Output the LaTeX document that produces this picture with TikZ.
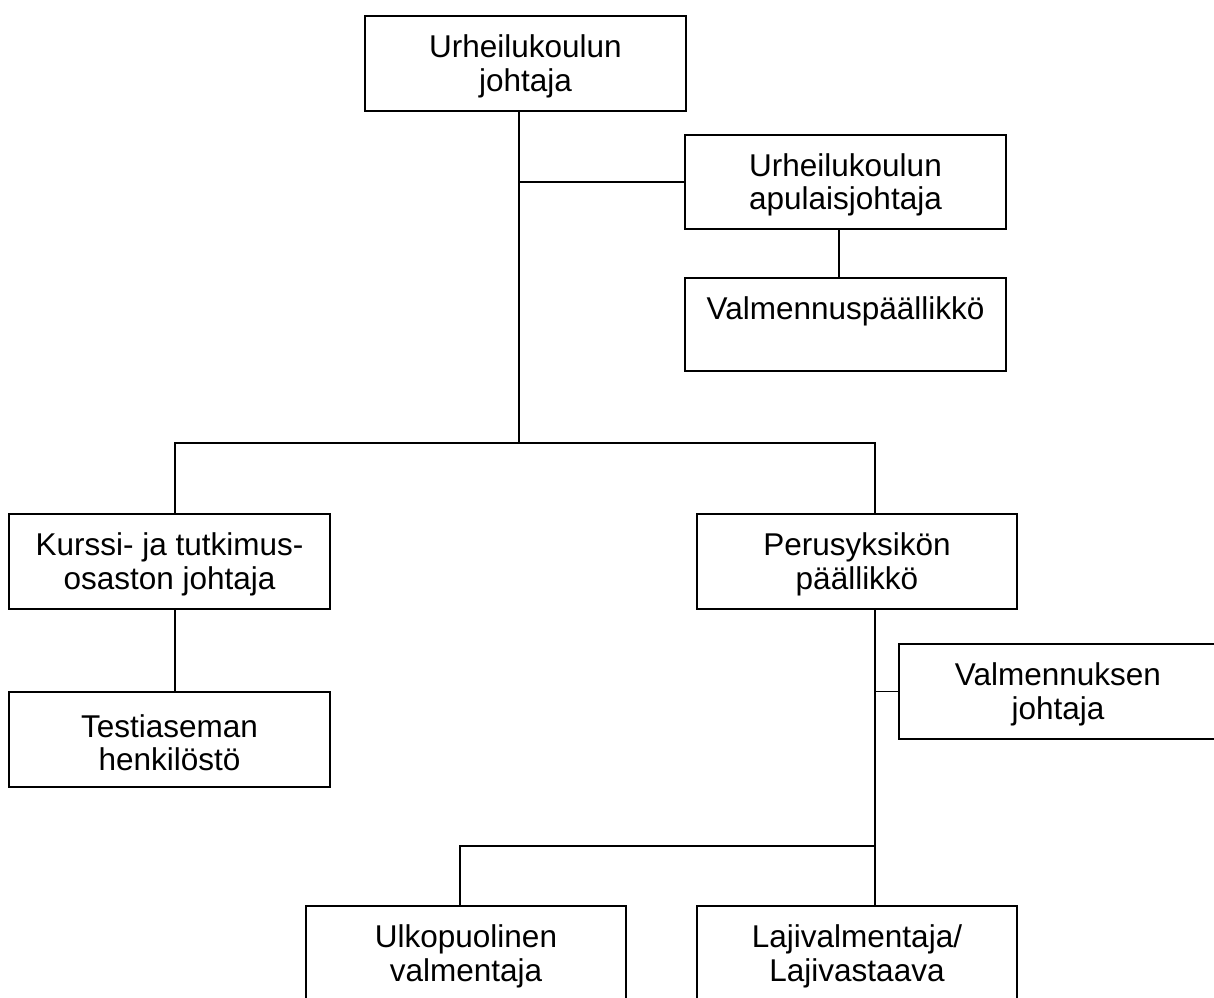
\documentclass[tikz,border=0pt]{standalone}
\usepackage{fontspec}
\setmainfont{Liberation Sans}
\begin{document}
\begin{tikzpicture}[x=1pt,y=-1pt,
  box/.style={draw=black, line width=1.8pt, rectangle, inner sep=0pt},
  lbl/.style={inner sep=0pt, align=center, font=\fontsize{31.5}{33.5}\selectfont},
  conn/.style={draw=black, line width=1.8pt}]
\useasboundingbox (0,0) rectangle (1214,997);
\fill[white] (0,0) rectangle (1214,997);
\clip (0,0) rectangle (1214,997);
\node[box, minimum width=321pt, minimum height=95pt] (b1) at (525.5,63.5) {};
\node[box, minimum width=321pt, minimum height=94pt] (b2) at (845.5,182) {};
\node[box, minimum width=321pt, minimum height=93pt] (b3) at (845.5,324.5) {};
\node[box, minimum width=321pt, minimum height=95pt] (b4) at (169.5,561.5) {};
\node[box, minimum width=320pt, minimum height=95pt] (b5) at (857,561.5) {};
\node[box, minimum width=321pt, minimum height=95pt] (b6) at (169.5,739.5) {};
\node[box, minimum width=318pt, minimum height=95pt] (b7) at (1058,691.5) {};
\node[box, minimum width=320pt, minimum height=95pt] (b8) at (466,953.5) {};
\node[box, minimum width=320pt, minimum height=95pt] (b9) at (857,953.5) {};
\node[lbl] (l1) at ([yshift=-3pt]b1.center) {Urheilukoulun\\johtaja};
\node[lbl] (l2) at ([yshift=-3pt]b2.center) {Urheilukoulun\\apulaisjohtaja};
\node[lbl] (l3) at ([yshift=0pt]b3.center) {Valmennuspäällikkö\\\mbox{}};
\node[lbl] (l4) at ([yshift=-3pt]b4.center) {Kurssi- ja tutkimus-\\osaston johtaja};
\node[lbl] (l5) at ([yshift=-3pt]b5.center) {Perusyksikön\\päällikkö};
\node[lbl] (l6) at ([yshift=-3pt]b6.center) {Testiaseman\\henkilöstö};
\node[lbl] (l7) at ([yshift=-3pt]b7.center) {Valmennuksen\\johtaja};
\node[lbl] (l8) at ([yshift=-3pt]b8.center) {Ulkopuolinen\\valmentaja};
\node[lbl] (l9) at ([yshift=-3pt]b9.center) {Lajivalmentaja/\\Lajivastaava};
\coordinate (t1) at (519,182);
\coordinate (h1) at (519,443);
\coordinate (v2) at (839,250);
\coordinate (hl) at (175,443);
\coordinate (hr) at (875,443);
\coordinate (h3) at (460,846);
\draw[conn] (b1.south -| h1) -- (h1);
\draw[conn] (t1) -- (b2.west |- t1);
\draw[conn] (b2.south -| v2) -- (b3.north -| v2);
\draw[conn] (b4.north -| hl) -- (hl) -- (hr) -- (b5.north -| hr);
\draw[conn] (b4.south -| hl) -- (b6.north -| hl);
\draw[conn] (b5.south -| hr) -- (b9.north -| hr);
\draw[conn] (b7.west -| hr) -- (b7.west);
\draw[conn] (b8.north -| h3) -- (h3) -- (h3 -| hr);
\end{tikzpicture}
\end{document}
